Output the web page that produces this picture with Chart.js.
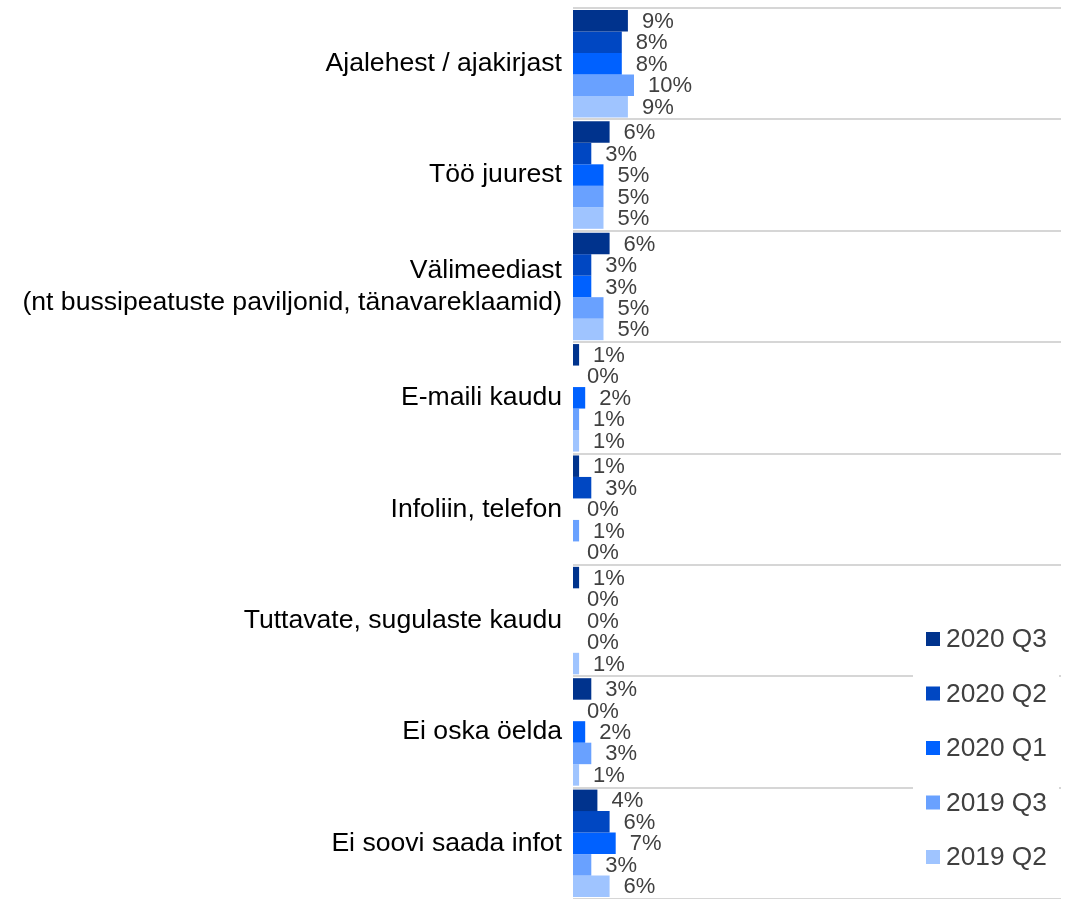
<!DOCTYPE html>
<html>
<head>
<meta charset="utf-8">
<script src="https://cdn.jsdelivr.net/npm/chart.js@4/dist/chart.umd.min.js"></script>
<style>
  html, body { margin: 0; padding: 0; background: #fff; }
  #wrap { width: 1076px; height: 899px; position: relative; }
</style>
</head>
<body>
<div id="wrap"><canvas id="myChart"></canvas></div>
<script>
const categories = [
  "Ajalehest / ajakirjast",
  "Töö juurest",
  ["Välimeediast", "(nt bussipeatuste paviljonid, tänavareklaamid)"],
  "E-maili kaudu",
  "Infoliin, telefon",
  "Tuttavate, sugulaste kaudu",
  "Ei oska öelda",
  "Ei soovi saada infot"
];

const seriesNames = ["2020 Q3", "2020 Q2", "2020 Q1", "2019 Q3", "2019 Q2"];
const seriesColors = ["#00338d", "#0047c2", "#0061ff", "#69a1ff", "#9fc4ff"];

const q3_2020 = [9, 6, 6, 1, 1, 1, 3, 4];
const q2_2020 = [8, 3, 3, 0, 3, 0, 0, 6];
const q1_2020 = [8, 5, 3, 2, 0, 0, 2, 7];
const q3_2019 = [10, 5, 5, 1, 1, 0, 3, 3];
const q2_2019 = [9, 5, 5, 1, 0, 1, 1, 6];

const seriesValues = [q3_2020, q2_2020, q1_2020, q3_2019, q2_2019];

const fontFamily = "'Liberation Sans', Arial, sans-serif";

// value labels to the right of each bar
const valueLabels = {
  id: "valueLabels",
  afterDatasetsDraw(chart) {
    const ctx = chart.ctx;
    ctx.save();
    ctx.font = "22px " + fontFamily;
    ctx.fillStyle = "#404040";
    ctx.textAlign = "left";
    ctx.textBaseline = "middle";
    chart.data.datasets.forEach((ds, i) => {
      chart.getDatasetMeta(i).data.forEach((bar, j) => {
        ctx.fillText(ds.data[j] + "%", bar.x + 14, bar.y + 1);
      });
    });
    ctx.restore();
  }
};

// legend sitting over the lower right of the plot
const boxLegend = {
  id: "boxLegend",
  afterDraw(chart) {
    const ctx = chart.ctx;
    const area = chart.chartArea;
    const left = area.right - 148;
    const top0 = 639;
    const step = 54.5;
    ctx.save();
    ctx.fillStyle = "#fff";
    ctx.fillRect(left, top0 - 27, 146, step * 4 + 54);
    ctx.font = "26.3px " + fontFamily;
    ctx.textAlign = "left";
    ctx.textBaseline = "middle";
    chart.data.datasets.forEach((ds, i) => {
      const y = top0 + i * step;
      ctx.fillStyle = ds.backgroundColor;
      ctx.fillRect(left + 13, y - 7, 14, 14);
      ctx.fillStyle = "#404040";
      ctx.fillText(ds.label, left + 33, y + 1);
    });
    ctx.restore();
  }
};

const ctx = document.getElementById("myChart").getContext("2d");
const chart = new Chart(ctx, {
  type: "bar",
  data: {
    labels: categories,
    datasets: seriesNames.map((name, i) => ({
      label: name,
      data: seriesValues[i],
      backgroundColor: seriesColors[i],
      borderWidth: 0,
      categoryPercentage: 0.965,
      barPercentage: 1.0
    }))
  },
  options: {
    indexAxis: "y",
    responsive: true,
    maintainAspectRatio: false,
    animation: false,
    layout: { padding: { top: 8, right: 15, bottom: 0, left: 0 } },
    plugins: {
      legend: { display: false },
      tooltip: { enabled: false }
    },
    scales: {
      x: {
        display: false,
        min: 0,
        max: 80
      },
      y: {
        afterFit(scale) {
          scale.width = 573;
          scale.paddingTop = 0;
          scale.paddingBottom = 0;
        },
        border: { display: false },
        grid: {
          color: "#d6d6d6",
          lineWidth: 2,
          drawTicks: false,
          offset: true
        },
        ticks: {
          autoSkip: false,
          padding: 11,
          color: "#000",
          font: { family: fontFamily, size: 26.6, lineHeight: 1.2 }
        }
      }
    }
  },
  plugins: [valueLabels, boxLegend]
});
</script>
</body>
</html>
